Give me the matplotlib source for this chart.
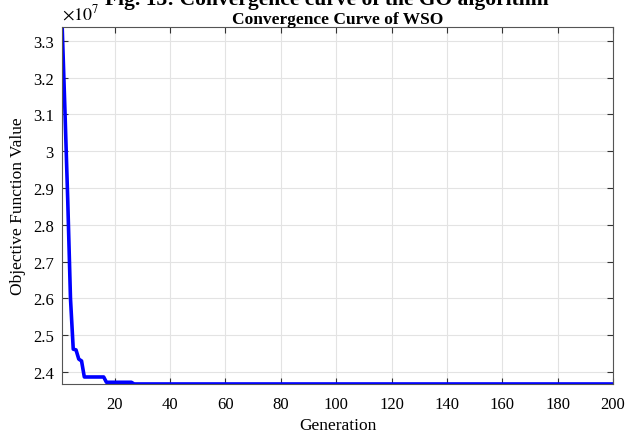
import matplotlib
matplotlib.use("Agg")
import matplotlib.pyplot as plt
import numpy as np

plt.rcParams['font.family'] = ['Liberation Serif', 'DejaVu Serif']
plt.rcParams['mathtext.fontset'] = 'stix'

# best objective value per generation (x 1e7)
early_gens = [1, 2, 3, 4, 5, 6, 7, 8]
early_vals = [3.338, 3.11, 2.87, 2.60, 2.462, 2.460, 2.435, 2.430]
# plateaus: (first generation, last generation, value)
plateaus = [(9, 16, 2.3864), (17, 26, 2.372), (27, 200, 2.3674)]

gens = list(early_gens)
vals = list(early_vals)
for g0, g1, v in plateaus:
    for g in range(g0, g1 + 1):
        gens.append(g)
        vals.append(v)
gens = np.array(gens)
vals = np.array(vals) * 1e7

fig = plt.figure(figsize=(6.28, 4.35), dpi=100)
ax = fig.add_axes([0.099, 0.115, 0.877, 0.821])

ax.plot(gens, vals, color='#0000ff', linewidth=2.6)

ax.set_xlim(1, 200)
ax.set_ylim(vals.min(), vals.max())
ax.set_xticks(np.arange(20, 201, 20))
ax.set_yticks(np.arange(2.4, 3.31, 0.1) * 1e7)
ax.yaxis.set_major_formatter(
    matplotlib.ticker.FuncFormatter(lambda v, _: f'{v / 1e7:.1f}'.rstrip('0').rstrip('.')))
ax.text(0.0, 1.012, r'$\times10^{7}$', transform=ax.transAxes,
        fontsize=13, ha='left', va='bottom')

ax.grid(True, color='#e3e3e3', linewidth=0.8)
ax.set_axisbelow(True)
ax.tick_params(direction='in', top=True, right=True, labelsize=12,
               length=4.5, color='#333333')
ax.tick_params(axis='x', pad=9)
ax.tick_params(axis='y', pad=6)
for s in ax.spines.values():
    s.set_color('#555555')
    s.set_linewidth(0.8)

ax.set_title('Convergence Curve of WSO', fontsize=12.5, fontweight='bold', pad=3)
ax.set_xlabel('Generation', fontsize=12.5, labelpad=3)
ax.set_ylabel('Objective Function Value', fontsize=12.5, labelpad=5)

# caption of the source figure, cut off by the top edge
fig.text(0.52, 0.988, 'Fig. 13: Convergence curve of the GO algorithm',
         fontsize=15.5, fontweight='bold', ha='center', va='baseline')

fig.savefig('out.png', dpi=100)
